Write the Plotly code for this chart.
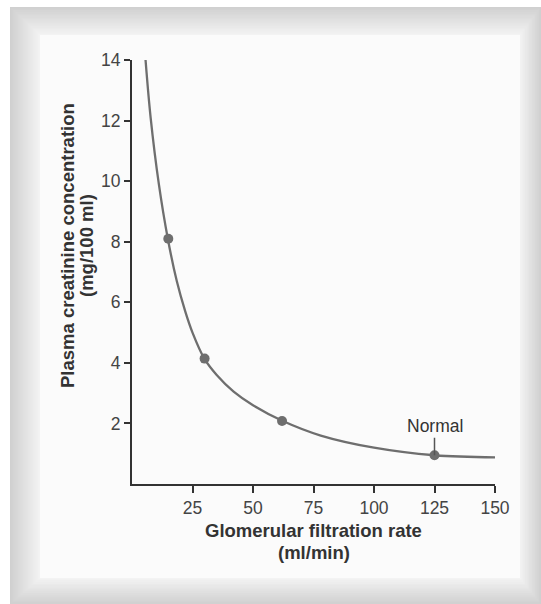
import plotly.graph_objects as go

# ---- data ----
curve_gfr = [5.6, 7.7, 11.1, 14.8, 18.5, 22.0, 25.0, 29.9, 35.0, 42.0, 50.0, 62.3, 78.0, 100.0, 125.0, 150.0]
curve_pcr = [14.0, 12.1, 9.9, 8.1, 6.7, 5.7, 5.0, 4.14, 3.6, 3.05, 2.6, 2.08, 1.6, 1.2, 0.95, 0.88]
pts_gfr = [15, 30, 62, 125]
pts_pcr = [8.1, 4.14, 2.08, 0.95]
x_ticks = [25, 50, 75, 100, 125, 150]
y_ticks = [2, 4, 6, 8, 10, 12, 14]
normal_label = "Normal"
normal_idx = 3
x_title = ["Glomerular filtration rate", "(ml/min)"]
y_title = ["Plasma creatinine concentration", "(mg/100 ml)"]

W, H = 541, 604
ML, MR, MT, MB = 132, 46, 60, 120
PW, PH = W - ML - MR, H - MT - MB

def px(x):
    return (x - ML) / PW

def py(y):
    return (H - MB - y) / PH

FONT = "Liberation Sans, Arial, Helvetica, sans-serif"
TXT = "#333333"
TICK = "#444444"
GRAY = "#6e6e6e"

fig = go.Figure()
fig.add_trace(go.Scatter(x=curve_gfr, y=curve_pcr, mode="lines",
                         line=dict(color=GRAY, width=2.3, shape="spline", smoothing=1.0),
                         hoverinfo="skip", showlegend=False))
fig.add_trace(go.Scatter(x=pts_gfr, y=pts_pcr, mode="markers",
                         marker=dict(color=GRAY, size=10),
                         showlegend=False))

# frame (bevelled gray border + light panel)
shapes = []
outer = (10, 7, 541, 604)
inner = (40, 35, 520, 578)
n = 30
c0, c1 = 0xd0, 0xf4
for i in range(n):
    t = i / n
    x0 = outer[0] + t * (inner[0] - outer[0])
    y0 = outer[1] + t * (inner[1] - outer[1])
    x1 = outer[2] + t * (inner[2] - outer[2])
    y1 = outer[3] + t * (inner[3] - outer[3])
    c = int(round(c0 + (c1 - c0) * t))
    col = "#%02x%02x%02x" % (c, c, c)
    shapes.append(dict(type="rect", xref="paper", yref="paper",
                       x0=px(x0), x1=px(x1), y0=py(y1), y1=py(y0),
                       fillcolor=col, line=dict(width=0), layer="below"))
shapes.append(dict(type="rect", xref="paper", yref="paper",
                   x0=px(inner[0]), x1=px(inner[2]), y0=py(inner[3]), y1=py(inner[1]),
                   fillcolor="#fbfbfb", line=dict(width=0), layer="below"))

annotations = [
    dict(x=pts_gfr[normal_idx], y=pts_pcr[normal_idx], xref="x", yref="y",
         text=normal_label, showarrow=True, arrowhead=0, arrowwidth=1.5,
         arrowcolor="#555555", ax=0, ay=-29,
         font=dict(family=FONT, size=17.5, color=TXT)),
    dict(x=0.5, y=py(530), xref="paper", yref="paper", text="<b>%s</b>" % x_title[0],
         showarrow=False, font=dict(family=FONT, size=18.5, color=TXT), yanchor="middle"),
    dict(x=0.5, y=py(552), xref="paper", yref="paper", text="<b>%s</b>" % x_title[1],
         showarrow=False, font=dict(family=FONT, size=18.5, color=TXT), yanchor="middle"),
    dict(x=px(68), y=py(246), xref="paper", yref="paper", text="<b>%s</b>" % y_title[0],
         showarrow=False, textangle=-90, font=dict(family=FONT, size=18.5, color=TXT),
         xanchor="center", yanchor="middle"),
    dict(x=px(87), y=py(246), xref="paper", yref="paper", text="<b>%s</b>" % y_title[1],
         showarrow=False, textangle=-90, font=dict(family=FONT, size=18.5, color=TXT),
         xanchor="center", yanchor="middle"),
]

fig.update_layout(
    width=W, height=H, margin=dict(l=ML, r=MR, t=MT, b=MB, pad=0),
    paper_bgcolor="white", plot_bgcolor="rgba(0,0,0,0)",
    font=dict(family=FONT, size=17, color=TXT),
    shapes=shapes, annotations=annotations, showlegend=False,
)
fig.update_xaxes(range=[0, 150], tickvals=x_ticks, ticks="outside", ticklen=7, tickwidth=2,
                 tickcolor="#333", showline=True, linecolor="#333", linewidth=2,
                 showgrid=False, zeroline=False, tickfont=dict(size=17.5, color=TICK))
fig.update_yaxes(range=[0, 14], tickvals=y_ticks, ticks="outside", ticklen=6, tickwidth=2,
                 tickcolor="#333", showline=True, linecolor="#333", linewidth=2,
                 showgrid=False, zeroline=False, tickfont=dict(size=17.5, color=TICK))

fig.write_html("out.html", config={"displayModeBar": False},
               post_script="document.body.style.margin='0';")
